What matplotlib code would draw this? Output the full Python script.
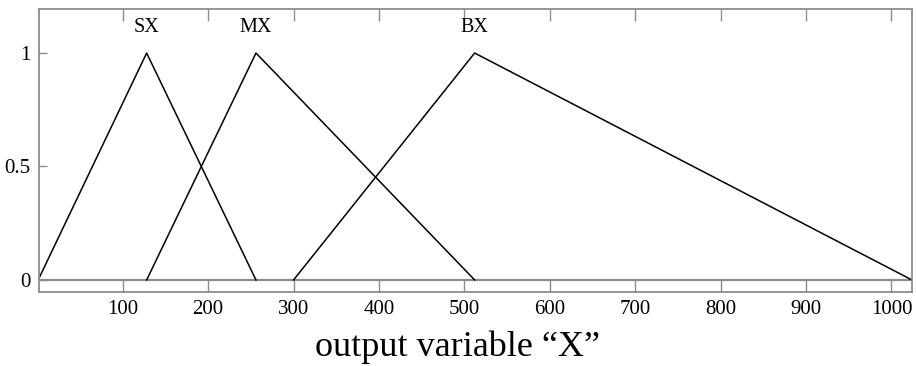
import matplotlib
matplotlib.use("Agg")
import matplotlib.pyplot as plt

# membership functions (triangles): name, [a, b, c]
mf_names = ["SX", "MX", "BX"]
mf_params = [[1, 128, 256], [128, 256, 512], [300, 512, 1024]]
x_ticks = [100, 200, 300, 400, 500, 600, 700, 800, 900, 1000]
y_ticks = [0, 0.5, 1]
y_tick_labels = ["0", "0.5", "1"]

plt.rcParams["font.family"] = ["Liberation Serif", "DejaVu Serif"]

fig = plt.figure(figsize=(9.16, 3.66), dpi=100)
ax = fig.add_axes([0.0426, 0.2022, 0.953, 0.7732])

for name, (a, b, c) in zip(mf_names, mf_params):
    ax.plot([a, b, c], [0, 1, 0], color="black", lw=1.1)
    ax.text(b, 1.07, name, ha="center", va="bottom", fontsize=14.5)

ax.axhline(0, color="#8c8c8c", lw=1.6, zorder=0)

ax.set_xlim(2, 1024)
ax.set_ylim(-0.053, 1.194)
ax.set_xticks(x_ticks)
ax.set_yticks(y_ticks)
ax.set_yticklabels(y_tick_labels)
ax.tick_params(axis="x", direction="in", length=8.5, width=1, color="#8c8c8c",
               top=True, labelsize=15, pad=6)
ax.tick_params(axis="y", direction="in", length=6, width=1, color="#8c8c8c",
               labelsize=15, pad=6)
for s in ax.spines.values():
    s.set_color("#8c8c8c")
    s.set_linewidth(1.3)

ax.set_xlabel("output variable \u201cX\u201d", fontsize=26)
ax.xaxis.set_label_coords(0.479, -0.135)

fig.savefig("out.png", dpi=100)
